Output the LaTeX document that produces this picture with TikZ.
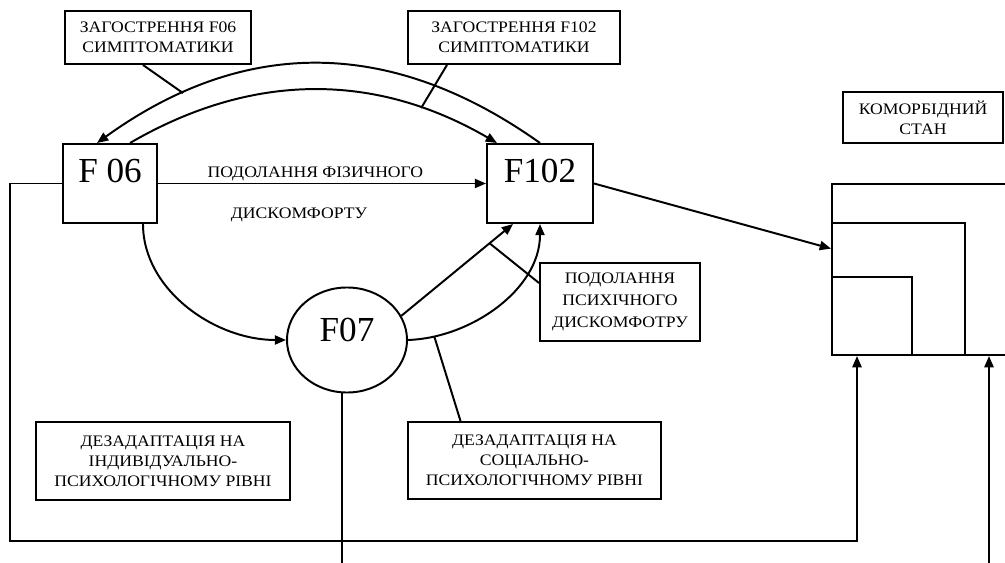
\documentclass[tikz,border=0pt]{standalone}
\usepackage{fontspec}
\setmainfont{Liberation Serif}
\newfontfamily\lblfont[FakeStretch=1.1]{Liberation Serif}
\usetikzlibrary{arrows.meta,shapes.geometric}

\begin{document}
\begin{tikzpicture}[x=0.025cm, y=-0.025cm, line width=1.4pt,
    txtbox/.style={draw, align=center, inner sep=2pt, font=\lblfont\fontsize{11.4pt}{14.2pt}\selectfont},
    codebox/.style={draw, inner sep=0pt, font=\fontsize{25pt}{28pt}\selectfont,
        text height=27pt, text depth=29pt, minimum height=1.975cm},
    lbl/.style={font=\lblfont\fontsize{11.4pt}{14.2pt}\selectfont},
    arr/.style={-{Triangle[length=8pt,width=6.5pt]}}]
    \path[use as bounding box, clip] (0,0) rectangle (1005,563);
    \fill[white] (0,0) rectangle (1005,563);

    % diagnoses
    \node[codebox, minimum width=2.35cm] (f06) at (110,183.5) {F 06};
    \node[codebox, minimum width=2.65cm] (f102) at (540,183.5) {F102};
    \node[draw, ellipse, inner sep=0pt, minimum width=3cm, minimum height=2.625cm,
        font=\fontsize{25pt}{28pt}\selectfont, text height=12pt, text depth=10pt] (f07) at (347,340) {F07};

    % text boxes
    \node[txtbox, minimum width=4.65cm, minimum height=1.325cm] (zag06) at (158,37.5) {ЗАГОСТРЕННЯ F06\\СИМПТОМАТИКИ};
    \node[txtbox, minimum width=5.3cm, minimum height=1.325cm] (zag102) at (514,37.5) {ЗАГОСТРЕННЯ F102\\СИМПТОМАТИКИ};
    \node[txtbox, minimum width=4cm, minimum height=1.95cm, font=\lblfont\fontsize{11.4pt}{15.5pt}\selectfont] (psych) at (620,302) {ПОДОЛАННЯ\\ПСИХІЧНОГО\\ДИСКОМФОТРУ};
    \node[txtbox, minimum width=6.325cm, minimum height=1.925cm] (socl) at (534.5,460.5) {ДЕЗАДАПТАЦІЯ НА\\СОЦІАЛЬНО-\\ПСИХОЛОГІЧНОМУ РІВНІ};
    \node[txtbox, minimum width=6.35cm, minimum height=1.95cm] (indiv) at (163,461) {ДЕЗАДАПТАЦІЯ НА\\ІНДИВІДУАЛЬНО-\\ПСИХОЛОГІЧНОМУ РІВНІ};
    \node[txtbox, minimum width=4cm, minimum height=1.275cm] (comlbl) at (923,117.5) {КОМОРБІДНИЙ\\СТАН};

    % comorbid state
    \node[draw, minimum width=5.325cm, minimum height=4.275cm] (combox) at (938.5,269.5) {};
    \draw (832,223) -| (965,355);
    \draw (832,277) -| (912,355);

    % arrows
    \draw[arr] (f06.east) -- (f102.west)
        node[lbl, pos=0.48, above=-2.5pt] {ПОДОЛАННЯ ФІЗИЧНОГО}
        node[lbl, pos=0.43, below=13pt] {ДИСКОМФОРТУ};
    \draw[arr] (f102.north) .. controls (391,37) and (244,37) .. (97,0 |- f06.north)
        coordinate[pos=0.805] (hitA);
    \draw[arr] (130,0 |- f06.north) .. controls (252,72) and (375,72) .. (497,0 |- f102.north)
        coordinate[pos=0.793] (hitB);
    \draw[arr] (143,0 |- f06.south) .. controls (143,290) and (215,340) .. (f07.west);
    \draw[arr] (f07.24) -- (513,0 |- f102.south) coordinate[pos=0.79] (hitC);
    \draw[arr] (f07.east) .. controls (470,338) and (540,290) .. (f102.south)
        coordinate[pos=0.14] (hitD);
    \draw[arr] (f102.east) -- (combox.169);
    \draw[arr] (f06.west) -- (10,0 |- f06.west) -- (10,541) -- (857,541) -- (857,0 |- combox.south);
    \draw (f07.265) -- (f07.265 |- 0,563);
    \draw[arr] (989,563) -- (989,0 |- combox.south);

    % pointers from the text boxes
    \draw (zag06.south) ++(-15,0) -- (hitA);
    \draw (zag102.south) ++(-67,0) -- (hitB);
    \draw (psych.west) ++(0,-19) -- (hitC);
    \draw (socl.north) ++(-74,0) -- (hitD);
\end{tikzpicture}
\end{document}
